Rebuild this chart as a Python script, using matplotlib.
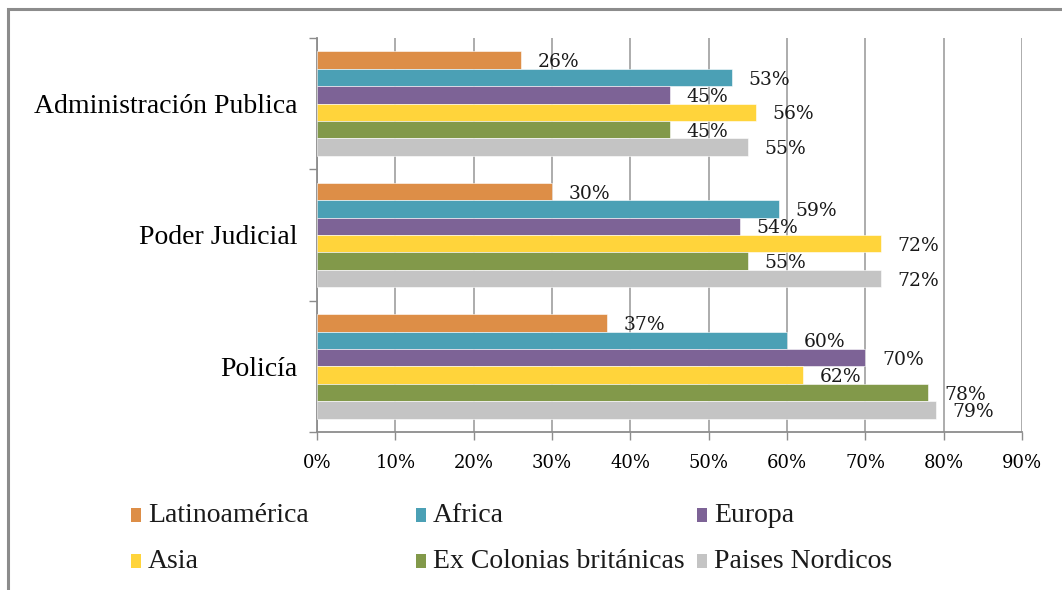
import matplotlib
matplotlib.use("Agg")
import matplotlib.pyplot as plt
from matplotlib.patches import Rectangle
import numpy as np

categories = ["Policía", "Poder Judicial", "Administración Publica"]  # bottom to top
series = ["Latinoamérica", "Africa", "Europa", "Asia", "Ex Colonias británicas", "Paises Nordicos"]
values = {
    "Latinoamérica":          [37, 30, 26],
    "Africa":                 [60, 59, 53],
    "Europa":                 [70, 54, 45],
    "Asia":                   [62, 72, 56],
    "Ex Colonias británicas": [78, 55, 45],
    "Paises Nordicos":        [79, 72, 55],
}
colors = ["#DD8E47", "#4BA0B5", "#7D6396", "#FFD43B", "#82994A", "#C4C4C4"]
xticks = [0, 10, 20, 30, 40, 50, 60, 70, 80, 90]

plt.rcParams["font.family"] = ["Liberation Serif", "DejaVu Serif"]
NUMFONT = ["DejaVu Serif"]

W, H = 1062, 590
fig = plt.figure(figsize=(W / 100, H / 100), dpi=100)
fig.patch.set_facecolor("white")

# outer frame (clipped at right/bottom)
fig.patches.append(Rectangle((8 / W, -0.1), 1.2, 1 - 9 / H + 0.1, transform=fig.transFigure,
                             fill=False, edgecolor="#8c8c8c", linewidth=2.2, zorder=0))

ax = fig.add_axes([317 / W, 1 - 432 / H, (1022 - 317) / W, (432 - 38) / H])
ax.set_facecolor("white")

n = len(series)
group = 0.795
h = group / n
y = np.arange(len(categories))
for i, s in enumerate(series):
    pos = y + (n / 2 - 0.5 - i) * h
    ax.barh(pos, values[s], height=h, color=colors[i], edgecolor="white", linewidth=0.4, zorder=3)
    for p, v in zip(pos, values[s]):
        ax.annotate(f"{v}%", xy=(v, p), xytext=(12, -1.5), textcoords="offset points",
                    ha="left", va="center", fontsize=13.5, family=NUMFONT,
                    color="#1a1a1a", zorder=4)

ax.set_xlim(0, 90)
ax.set_ylim(-0.5, 2.5)
ax.set_xticks(xticks)
ax.set_xticklabels([f"{t}%" for t in xticks], fontsize=13, family=NUMFONT)
ax.set_yticks(y)
ax.set_yticklabels(categories, fontsize=20)
ax.set_yticks([-0.5, 0.5, 1.5, 2.5], minor=True)
ax.tick_params(axis="y", which="major", length=0, pad=14)
ax.tick_params(axis="y", which="minor", length=6, color="#8c8c8c", width=1)
ax.tick_params(axis="x", which="major", length=6, color="#8c8c8c", width=1, pad=10)
ax.xaxis.grid(True, color="#a6a6a6", linewidth=1.3, zorder=0)
ax.set_axisbelow(True)
for sp in ["top", "right"]:
    ax.spines[sp].set_visible(False)
for sp in ["left", "bottom"]:
    ax.spines[sp].set_color("#8c8c8c")
    ax.spines[sp].set_linewidth(1.3)

# legend (manual layout, Excel-like fixed columns)
leg_x = [131, 416, 697]
leg_y = [515, 561]
for i, s in enumerate(series):
    r, c = divmod(i, 3)
    x0 = leg_x[c] / W
    yc = 1 - leg_y[r] / H
    fig.patches.append(Rectangle((x0, yc - 7 / H), 10 / W, 14 / H, transform=fig.transFigure,
                                 facecolor=colors[i], edgecolor="none"))
    fig.text(x0 + 17 / W, yc, s, fontsize=20, ha="left", va="center", color="#1a1a1a")

fig.savefig("out.png", dpi=100, facecolor="white")
